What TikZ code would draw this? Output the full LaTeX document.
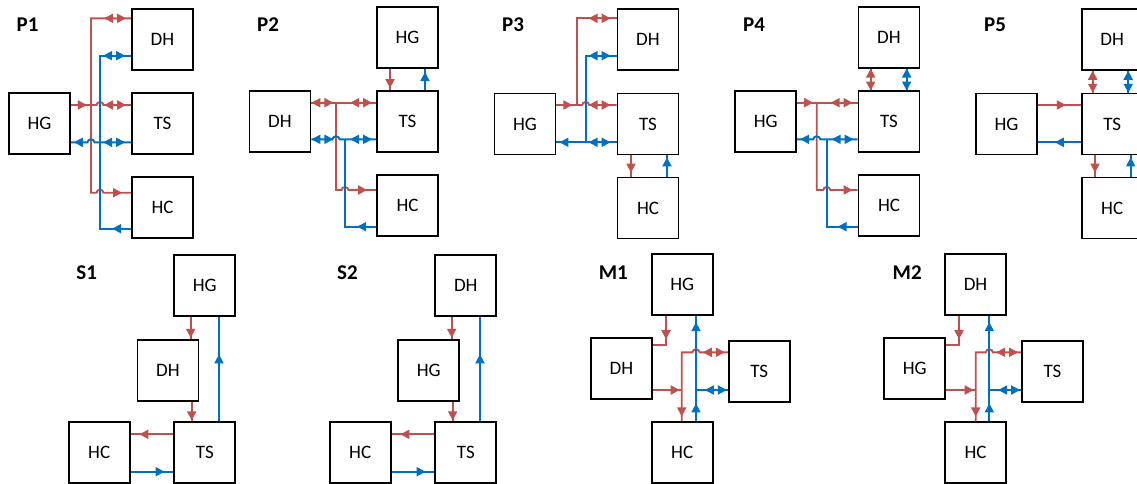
\documentclass[tikz,border=0pt]{standalone}
\usepackage{fontspec}
\setmainfont{Carlito}
\usetikzlibrary{arrows.meta,calc,decorations.markings}

\definecolor{hotred}{HTML}{C0504D}
\definecolor{coldblue}{HTML}{0070C0}

% small bump where a pipe jumps over another one
\newcommand{\hopr}[1]{-- ($(#1)-(3.5,0)$) arc[start angle=180,end angle=0,x radius=3.5,y radius=3]}
\newcommand{\hopl}[1]{-- ($(#1)+(3.5,0)$) arc[start angle=0,end angle=180,x radius=3.5,y radius=3]}

\tikzset{
  >={Triangle[length=9pt,width=9pt]},
  unit/.style={draw,line width=1.8pt,minimum size=61pt,inner sep=0pt,font=\fontsize{19}{21}\selectfont},
  tag/.style={font=\bfseries\fontsize{21}{23}\selectfont},
  hot/.style={color=hotred,line width=1.9pt},
  cold/.style={color=coldblue,line width=1.9pt},
  fwd/.style={postaction={decorate,decoration={markings,mark=at position #1 with {\arrow{>}}}}},
  bwd/.style={postaction={decorate,decoration={markings,mark=at position #1 with {\arrowreversed{>}}}}},
  both/.style={postaction={decorate,decoration={markings,mark=at position #1 with {\arrow[xshift=11pt]{>}\arrowreversed[xshift=-11pt]{>}}}}}
}

\begin{document}
\begin{tikzpicture}[x=1pt,y=1pt]
  \useasboundingbox (0,0) rectangle (1137,-483);

  % P1
  \node[tag] (p1) at (27.5,-25) {P1};
  \node[unit] (p1dh) at (162.5,-39.5) {DH};
  \node[unit] (p1hg) at (39.5,-123.5) {HG};
  \node[unit] (p1ts) at (162.5,-123.5) {TS};
  \node[unit] (p1hc) at (162.5,-207.5) {HC};
  \coordinate (p1rt) at (91,-18.3);
  \coordinate (p1rm) at (91,-105);
  \coordinate (p1rb) at (91,-192.7);
  \coordinate (p1bt) at (100,-55.7);
  \coordinate (p1bm) at (100,-142.3);
  \coordinate (p1bb) at (100,-228.7);
  \draw[hot,fwd=16pt] (p1hg.east |- p1rm) -- (p1rm);
  \draw[hot,both=16pt,fwd=-9pt] (p1dh.west |- p1rt) -- (p1rt) -- (p1rb) \hopr{p1bt |- p1rb} -- (p1hc.west |- p1rb);
  \draw[hot,both=-16pt] (p1rm) \hopr{p1bt |- p1rm} -- (p1ts.west |- p1rm);
  \draw[cold,both=17pt,bwd=-19pt] (p1dh.west |- p1bt) -- (p1bt) -- (p1bb) -- (p1hc.west |- p1bb);
  \draw[cold,both=17pt,fwd=-3pt] (p1ts.west |- p1bm) -- (p1bm) \hopl{p1rt |- p1bm} -- (p1hg.east |- p1bm);

  % P2
  \node[tag] (p2) at (268,-25) {P2};
  \node[unit] (p2hg) at (407.5,-37.5) {HG};
  \node[unit] (p2dh) at (280,-121.5) {DH};
  \node[unit] (p2ts) at (407.5,-121.5) {TS};
  \node[unit] (p2hc) at (407.5,-205.5) {HC};
  \coordinate (p2r) at (336,-102.7);
  \coordinate (p2rb) at (336,-190);
  \coordinate (p2b) at (345,-139.3);
  \coordinate (p2bb) at (345,-226.7);
  \draw[hot,fwd=-2pt] ([xshift=-17.5pt]p2hg.south) -- ([xshift=-17.5pt]p2ts.north);
  \draw[cold,fwd=18pt] ([xshift=17.5pt]p2ts.north) -- ([xshift=17.5pt]p2hg.south);
  \draw[hot,both=11pt,both=-15pt] (p2dh.east |- p2r) -- (p2ts.west |- p2r);
  \draw[hot,fwd=-9pt] (p2r) -- (p2rb) \hopr{p2b |- p2rb} -- (p2hc.west |- p2rb);
  \draw[cold,both=11pt,both=-15pt] (p2dh.east |- p2b) \hopr{p2r |- p2b} -- (p2ts.west |- p2b);
  \draw[cold,fwd=19pt] (p2hc.west |- p2bb) -- (p2bb) -- (p2b);

  % P3
  \node[tag] (p3) at (513,-25) {P3};
  \node[unit] (p3dh) at (648,-39.5) {DH};
  \node[unit] (p3hg) at (525,-124) {HG};
  \node[unit] (p3ts) at (648,-124) {TS};
  \node[unit] (p3hc) at (648,-208) {HC};
  \coordinate (p3rt) at (576.7,-18.3);
  \coordinate (p3r) at (576.7,-105);
  \coordinate (p3bt) at (585.7,-55.7);
  \coordinate (p3b) at (585.7,-142.3);
  \draw[hot,fwd=16pt] (p3hg.east |- p3r) -- (p3r);
  \draw[hot,both=-17pt] (p3r) -- (p3rt) -- (p3dh.west |- p3rt);
  \draw[hot,both=-17pt] (p3r) \hopr{p3bt |- p3r} -- (p3ts.west |- p3r);
  \draw[cold,both=17pt,fwd=-3pt] (p3ts.west |- p3b) -- (p3hg.east |- p3b);
  \draw[cold,both=-17pt] (p3b) -- (p3bt) -- (p3dh.west |- p3bt);
  \draw[hot,fwd=-4pt] ([xshift=-17pt]p3ts.south) -- ([xshift=-17pt]p3hc.north);
  \draw[cold,fwd=-2pt] ([xshift=19pt]p3hc.north) -- ([xshift=19pt]p3ts.south);

  % P4
  \node[tag] (p4) at (754,-25) {P4};
  \node[unit] (p4dh) at (889,-37.5) {DH};
  \node[unit] (p4hg) at (765.7,-121.5) {HG};
  \node[unit] (p4ts) at (889,-121.5) {TS};
  \node[unit] (p4hc) at (889,-205.5) {HC};
  \coordinate (p4r) at (816.7,-102.7);
  \coordinate (p4rb) at (816.7,-190);
  \coordinate (p4b) at (826.7,-139.3);
  \coordinate (p4bb) at (826.7,-226.7);
  \draw[hot,both=0.5] ([xshift=-18.3pt]p4dh.south) -- ([xshift=-18.3pt]p4ts.north);
  \draw[cold,both=0.5] ([xshift=17.7pt]p4dh.south) -- ([xshift=17.7pt]p4ts.north);
  \draw[hot,fwd=16pt,both=-16pt] (p4hg.east |- p4r) -- (p4ts.west |- p4r);
  \draw[hot,fwd=-5pt] (p4r) -- (p4rb) \hopr{p4b |- p4rb} -- (p4hc.west |- p4rb);
  \draw[cold,both=15pt,fwd=-3pt] (p4ts.west |- p4b) -- (p4b) \hopl{p4r |- p4b} -- (p4hg.east |- p4b);
  \draw[cold,fwd=20pt] (p4hc.west |- p4bb) -- (p4bb) -- (p4b);

  % P5
  \node[tag] (p5) at (995,-25) {P5};
  \node[unit] (p5dh) at (1112.2,-39.5) {DH};
  \node[unit] (p5hg) at (1006.5,-124) {HG};
  \node[unit] (p5ts) at (1112.2,-124) {TS};
  \node[unit] (p5hc) at (1112.2,-208) {HC};
  \draw[hot,both=0.5] ([xshift=-19.5pt]p5dh.south) -- ([xshift=-19.5pt]p5ts.north);
  \draw[cold,both=0.5] ([xshift=16pt]p5dh.south) -- ([xshift=16pt]p5ts.north);
  \draw[hot,fwd=28pt] ([yshift=19pt]p5hg.east) -- ([yshift=19pt]p5ts.west);
  \draw[cold,fwd=26pt] ([yshift=-18.3pt]p5ts.west) -- ([yshift=-18.3pt]p5hg.east);
  \draw[hot,fwd=-4pt] ([xshift=-17.2pt]p5ts.south) -- ([xshift=-17.2pt]p5hc.north);
  \draw[cold,fwd=-2pt] ([xshift=18.5pt]p5hc.north) -- ([xshift=18.5pt]p5ts.south);

  % S1
  \node[tag] (s1) at (86.7,-272.5) {S1};
  \node[unit] (s1hg) at (204.8,-285.2) {HG};
  \node[unit] (s1dh) at (168,-370.2) {DH};
  \node[unit] (s1hc) at (99.2,-452.8) {HC};
  \node[unit] (s1ts) at (204.8,-452.8) {TS};
  \draw[hot,fwd=-1pt] ([xshift=-14.1pt]s1hg.south) -- ([xshift=22.7pt]s1dh.north);
  \draw[hot,fwd=-1pt] ([xshift=23.7pt]s1dh.south) -- ([xshift=-13.1pt]s1ts.north);
  \draw[cold,fwd=67pt] ([xshift=14.2pt]s1ts.north) -- ([xshift=14.2pt]s1hg.south);
  \draw[hot,fwd=34pt] ([yshift=18.5pt]s1ts.west) -- ([yshift=18.5pt]s1hc.east);
  \draw[cold,fwd=34pt] ([yshift=-18.9pt]s1hc.east) -- ([yshift=-18.9pt]s1ts.west);

  % S2
  \node[tag] (s2) at (347.5,-272.5) {S2};
  \node[unit] (s2dh) at (465.8,-285.2) {DH};
  \node[unit] (s2hg) at (428.8,-370.2) {HG};
  \node[unit] (s2hc) at (360.2,-452.8) {HC};
  \node[unit] (s2ts) at (465.8,-452.8) {TS};
  \draw[hot,fwd=-1pt] ([xshift=-14.1pt]s2dh.south) -- ([xshift=22.9pt]s2hg.north);
  \draw[hot,fwd=-1pt] ([xshift=23.9pt]s2hg.south) -- ([xshift=-13.1pt]s2ts.north);
  \draw[cold,fwd=67pt] ([xshift=14.2pt]s2ts.north) -- ([xshift=14.2pt]s2dh.south);
  \draw[hot,fwd=34pt] ([yshift=18.5pt]s2ts.west) -- ([yshift=18.5pt]s2hc.east);
  \draw[cold,fwd=34pt] ([yshift=-18.9pt]s2hc.east) -- ([yshift=-18.9pt]s2ts.west);

  % M1
  \node[tag] (m1) at (613.3,-272.5) {M1};
  \node[unit] (m1hg) at (682.2,-284.8) {HG};
  \node[unit] (m1dh) at (621.5,-368.8) {DH};
  \node[unit] (m1ts) at (759.2,-371.2) {TS};
  \node[unit] (m1hc) at (682.2,-452.8) {HC};
  \coordinate (m1a) at (666,-345);
  \coordinate (m1rt) at (681.7,-352.3);
  \coordinate (m1r) at (681.7,-390);
  \coordinate (m1b) at (696,-390);
  \draw[hot,fwd=23pt] (m1hg.south -| m1a) -- (m1a) -- (m1dh.east |- m1a);
  \draw[hot,fwd=-2pt] (m1dh.east |- m1r) -- (m1r);
  \draw[hot,both=14pt,fwd=-5pt] (m1ts.west |- m1rt) \hopl{m1b |- m1rt} -- (m1rt) -- (m1hc.north -| m1rt);
  \draw[cold,fwd=18pt,fwd=-6pt] (m1hc.north -| m1b) -- (m1hg.south -| m1b);
  \draw[cold,both=-12pt] (m1b) -- (m1ts.west |- m1b);

  % M2
  \node[tag] (m2) at (907.2,-272.5) {M2};
  \node[unit] (m2dh) at (975.5,-284.8) {DH};
  \node[unit] (m2hg) at (914.8,-368.8) {HG};
  \node[unit] (m2ts) at (1052.5,-371.2) {TS};
  \node[unit] (m2hc) at (975.5,-452.8) {HC};
  \coordinate (m2a) at (959,-345);
  \coordinate (m2rt) at (975.7,-352.3);
  \coordinate (m2r) at (975.7,-390);
  \coordinate (m2b) at (989.3,-390);
  \draw[hot,fwd=23pt] (m2dh.south -| m2a) -- (m2a) -- (m2hg.east |- m2a);
  \draw[hot,fwd=-2pt] (m2hg.east |- m2r) -- (m2r);
  \draw[hot,both=14pt,fwd=-5pt] (m2ts.west |- m2rt) \hopl{m2b |- m2rt} -- (m2rt) -- (m2hc.north -| m2rt);
  \draw[cold,fwd=18pt,fwd=-6pt] (m2hc.north -| m2b) -- (m2dh.south -| m2b);
  \draw[cold,both=-12pt] (m2b) -- (m2ts.west |- m2b);
\end{tikzpicture}
\end{document}
